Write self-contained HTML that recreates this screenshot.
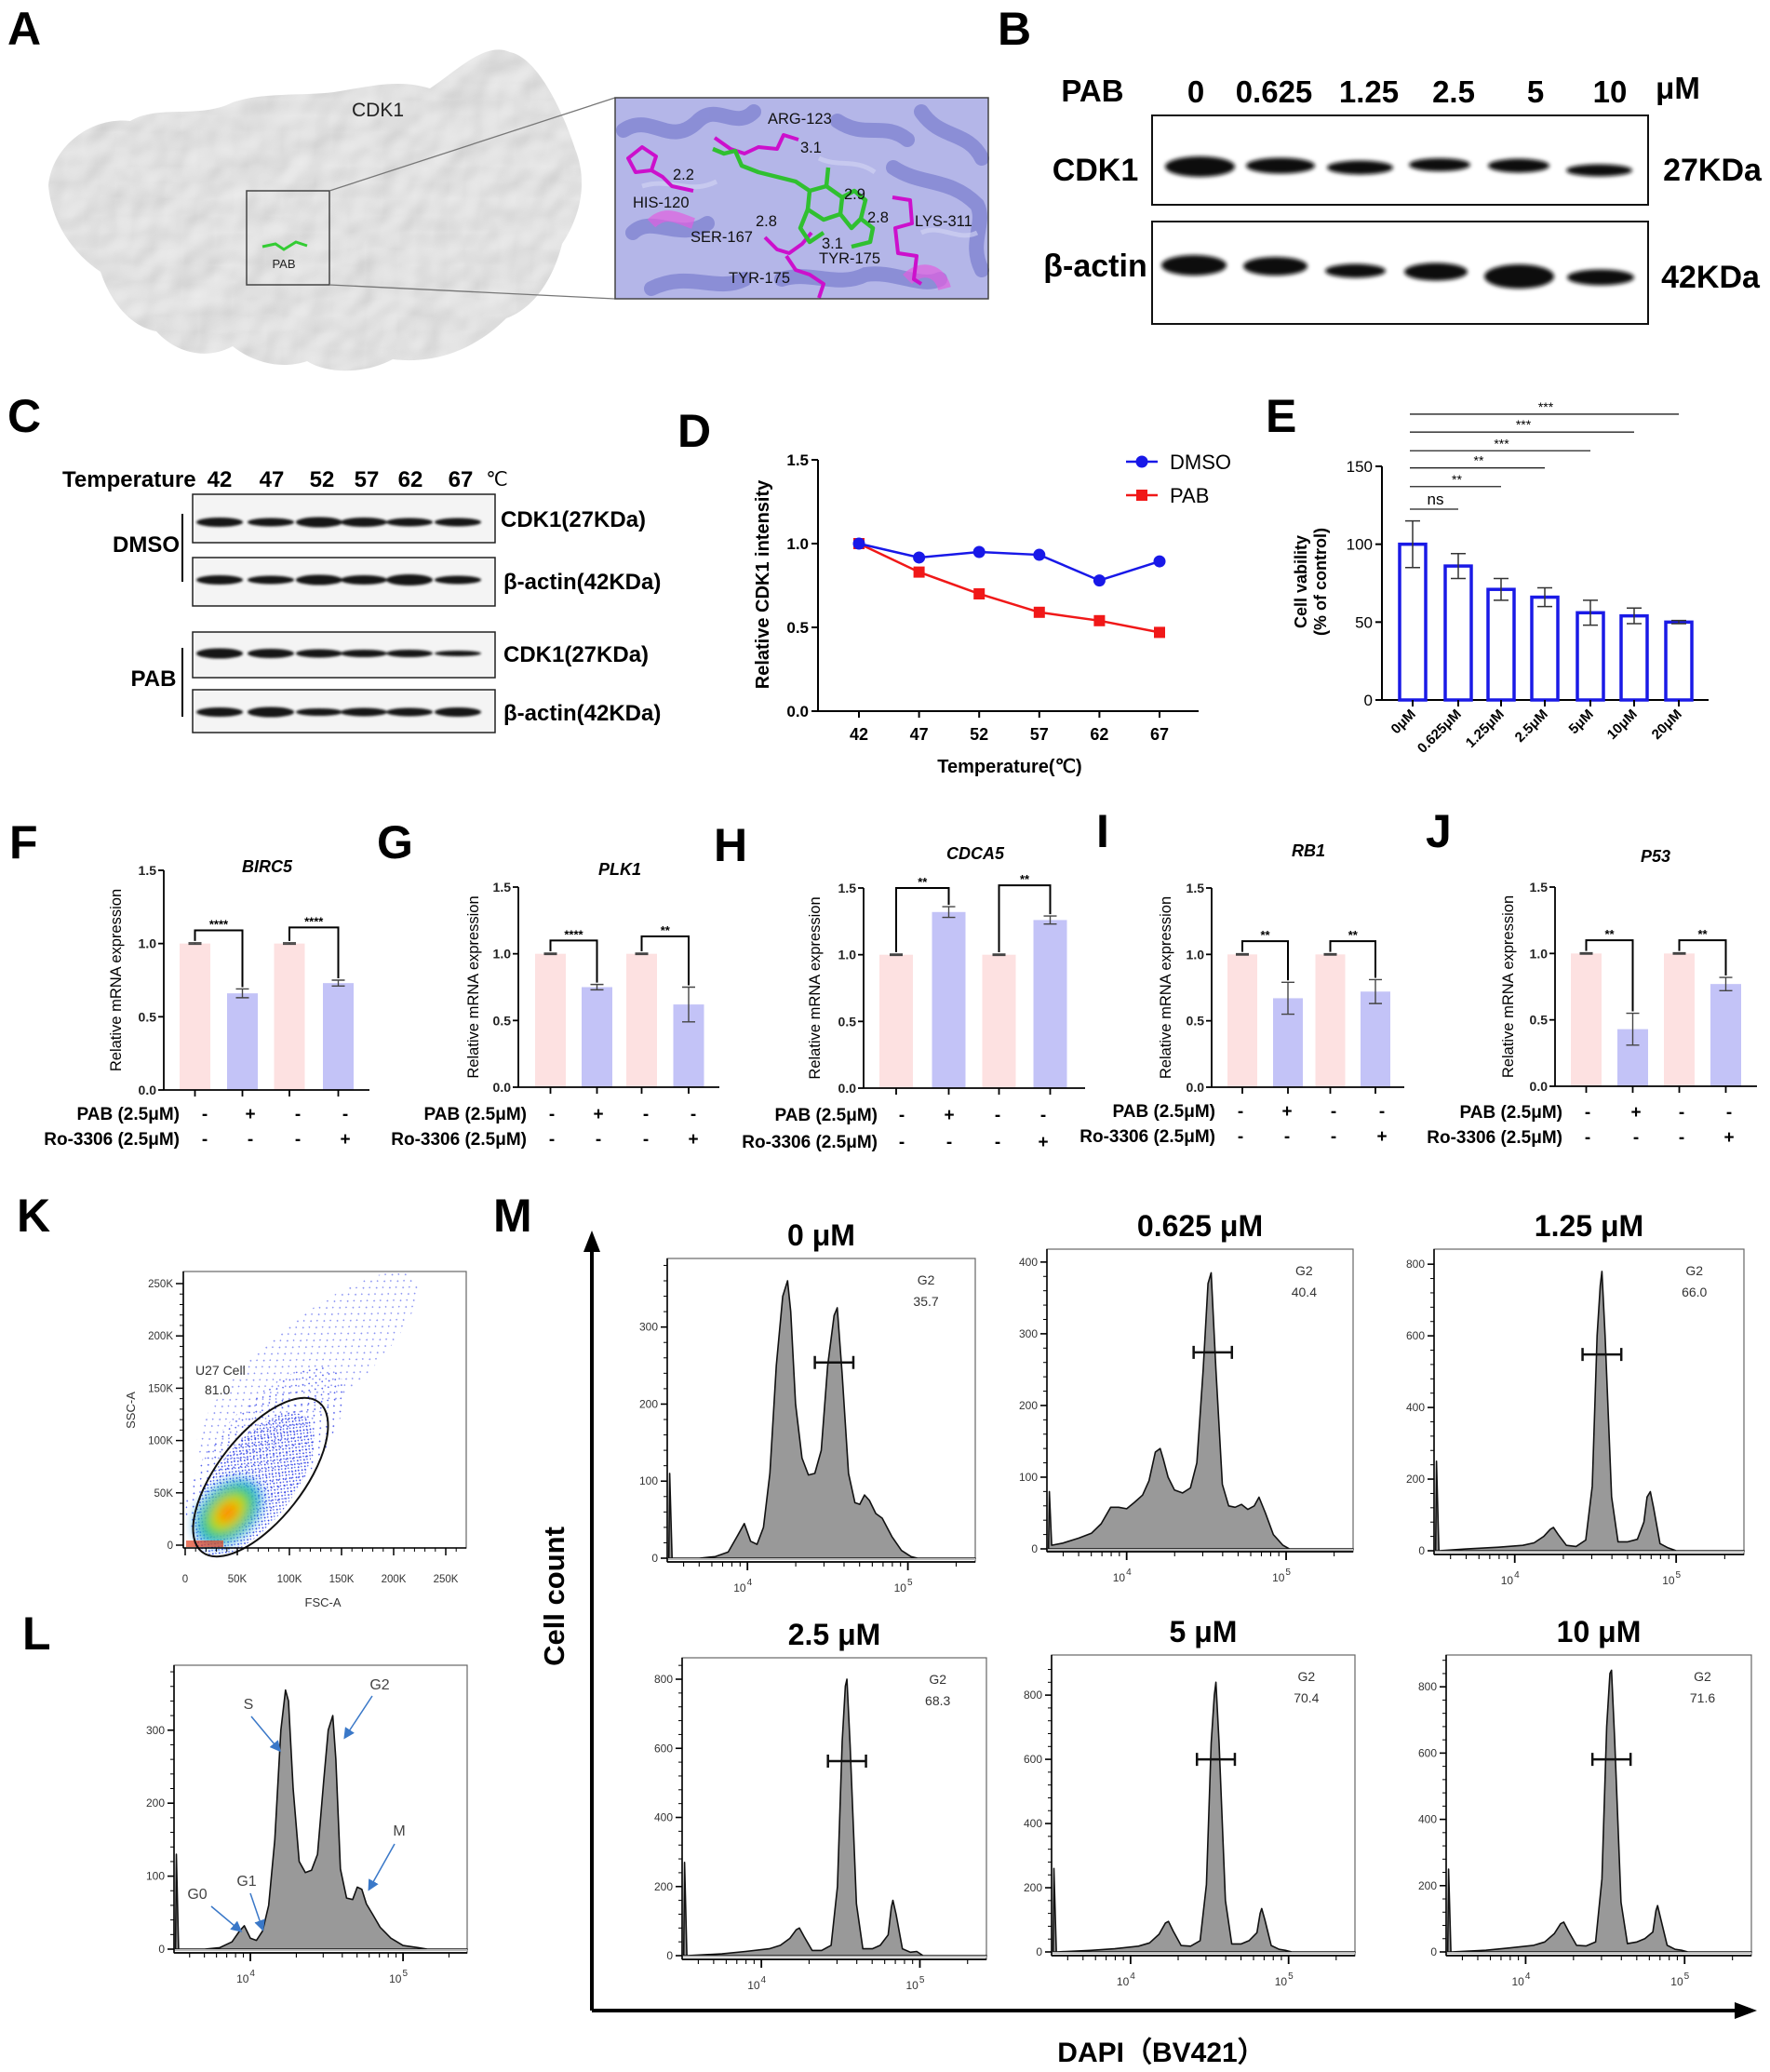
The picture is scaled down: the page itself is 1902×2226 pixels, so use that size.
<!DOCTYPE html>
<html><head><meta charset="utf-8">
<style>
html,body{margin:0;padding:0;background:#fff;}
svg{display:block;font-family:"Liberation Sans",Arial,sans-serif;}
</style></head>
<body>
<svg id="fig" xmlns="http://www.w3.org/2000/svg" width="1902" height="2226" viewBox="0 0 1902 2226">
<defs>
<filter id="blur2" x="-20%" y="-60%" width="140%" height="220%"><feGaussianBlur stdDeviation="2.2"/></filter>
<filter id="blur1" x="-20%" y="-60%" width="140%" height="220%"><feGaussianBlur stdDeviation="1.4"/></filter>
<filter id="surf" x="0" y="0" width="100%" height="100%">
<feTurbulence type="fractalNoise" baseFrequency="0.028" numOctaves="2" seed="4" result="n"/>
<feDiffuseLighting in="n" surfaceScale="4" lighting-color="#ffffff" diffuseConstant="1.0" result="l"><feDistantLight azimuth="235" elevation="55"/></feDiffuseLighting>
<feColorMatrix in="l" type="matrix" values="0.55 0 0 0 0.3  0.55 0 0 0 0.3  0.55 0 0 0 0.3  0 0 0 1 0" result="g"/>
<feComposite in="g" in2="SourceGraphic" operator="in"/>
</filter>
<filter id="blurK"><feGaussianBlur stdDeviation="6"/></filter>
<radialGradient id="core" cx="0.5" cy="0.5" r="0.5">
<stop offset="0" stop-color="#ff3b10"/><stop offset="0.25" stop-color="#ffb000"/><stop offset="0.45" stop-color="#b8e000"/><stop offset="0.65" stop-color="#20d070"/><stop offset="0.82" stop-color="#10a8e8"/><stop offset="1" stop-color="#1030e0" stop-opacity="0"/>
</radialGradient>
<pattern id="dots" width="5" height="5" patternUnits="userSpaceOnUse"><rect x="1" y="1" width="1.6" height="1.6" fill="#2030e0"/><rect x="3.5" y="3.2" width="1.4" height="1.4" fill="#3a50f0"/></pattern>
<pattern id="dots2" width="11" height="9" patternUnits="userSpaceOnUse"><rect x="2" y="2" width="1.6" height="1.6" fill="#2a3ae8"/><rect x="7.5" y="6" width="1.5" height="1.5" fill="#2a3ae8"/></pattern>
<marker id="arrB" markerWidth="8" markerHeight="8" refX="6" refY="4" orient="auto"><path d="M0,0 L8,4 L0,8 z" fill="#3a78c8"/></marker>
</defs>

<g font-weight="bold" font-size="50" fill="#000">
<text x="8" y="48">A</text>
<text x="1072" y="48">B</text>
<text x="8" y="464">C</text>
<text x="728" y="480">D</text>
<text x="1360" y="464">E</text>
<text x="10" y="922">F</text>
<text x="405" y="922">G</text>
<text x="767" y="925">H</text>
<text x="1178" y="910">I</text>
<text x="1532" y="910">J</text>
<text x="18" y="1323">K</text>
<text x="530" y="1323">M</text>
<text x="24" y="1772">L</text>
</g>

<g>
<path filter="url(#surf)" fill="#ccc" d="M52,200 C55,160 95,125 140,130 C170,112 215,128 250,110 C285,98 330,104 365,98 C400,92 430,85 462,95 C492,75 522,44 548,56 C578,62 605,120 618,160 C632,195 624,232 604,262 C594,302 572,332 544,342 C514,372 472,392 422,386 C392,402 352,402 330,388 C300,398 270,388 250,372 C220,388 188,378 168,356 C138,350 118,322 108,292 C78,272 56,240 52,200 Z"/>
<text x="406" y="125" font-size="21" fill="#222" text-anchor="middle">CDK1</text>
<rect x="265" y="205" width="89" height="101" fill="none" stroke="#444" stroke-width="1.5"/>
<path d="M282,265 L296,262 L305,268 L318,260 L330,264" stroke="#3c3" stroke-width="3" fill="none"/>
<text x="305" y="288" font-size="13" fill="#222" text-anchor="middle">PAB</text>
<line x1="354" y1="205" x2="661" y2="105" stroke="#777" stroke-width="1.3"/>
<line x1="354" y1="306" x2="661" y2="321" stroke="#777" stroke-width="1.3"/>
<g>
<rect x="661" y="105" width="401" height="216" fill="#b4b6e8"/>
<g fill="none" stroke="#8185d2" stroke-width="16" stroke-linecap="round" opacity="0.8">
<path d="M670,140 C700,120 720,160 750,130 C770,110 790,140 810,120"/>
<path d="M990,120 C1010,150 1040,140 1055,170"/>
<path d="M960,180 C990,200 1020,190 1050,220 C1060,240 1040,260 1055,290"/>
<path d="M680,250 C700,230 730,260 760,240"/>
<path d="M700,310 C740,290 770,315 800,300"/>
<path d="M840,300 C870,290 900,310 930,295 C960,290 990,310 1010,300"/>
<path d="M900,130 C930,150 950,130 975,150"/>
</g>
<g fill="none" stroke="#d4d6f4" stroke-width="5" opacity="0.6">
<path d="M690,200 C720,190 740,210 770,195"/><path d="M990,250 C1010,240 1030,260 1050,250"/><path d="M880,170 C900,180 920,170 940,185"/>
</g>
<path d="M700,240 C715,225 730,235 745,240" stroke="#e060e0" stroke-width="12" fill="none" opacity="0.7"/>
<path d="M975,300 C990,285 1010,290 1015,310" stroke="#e060e0" stroke-width="14" fill="none" opacity="0.7"/>
<g fill="none" stroke="#cc10cc" stroke-width="4" stroke-linejoin="round">
<path d="M675,170 L690,158 L705,168 L700,183 L683,185 Z M700,183 L712,190 L722,200 L745,205"/>
<path d="M768,148 L785,160 L800,165 L815,158 L835,160 L842,145 L858,150"/>
<path d="M822,255 L835,268 L848,272 L862,262 L872,250"/>
<path d="M845,275 L855,290 L870,295 L885,305 L880,320"/>
<path d="M959,212 L978,215 L980,240 L962,245 L965,272 L985,275 L982,300 L990,305"/>
</g>
<g fill="none" stroke="#30c030" stroke-width="4.5" stroke-linejoin="round">
<path d="M766,160 L778,165 L790,162 L797,178 L815,185 L835,190 L855,195 L870,205"/>
<path d="M870,205 L888,200 L905,212 L903,230 L885,236 L868,225 Z"/>
<path d="M905,212 L918,205 L930,215 L925,235 L915,245 L903,230"/>
<path d="M925,235 L938,245 L935,260 L915,265"/>
<path d="M868,225 L860,245 L870,260 L885,250"/>
<path d="M890,180 L888,200"/>
</g>
<g font-size="16.5" fill="#111">
<text x="825" y="133">ARG-123</text><text x="860" y="164">3.1</text>
<text x="723" y="193">2.2</text><text x="680" y="223">HIS-120</text>
<text x="907" y="214">2.9</text><text x="932" y="239">2.8</text>
<text x="983" y="243">LYS-311</text><text x="812" y="243">2.8</text>
<text x="742" y="260">SER-167</text><text x="883" y="267">3.1</text>
<text x="880" y="283">TYR-175</text><text x="783" y="304">TYR-175</text>
</g>
<rect x="661" y="105" width="401" height="216" fill="none" stroke="#444" stroke-width="1.5"/>
</g>
</g>

<g font-weight="bold">
<text x="1174" y="109" font-size="33" text-anchor="middle">PAB</text>
<g font-size="33" text-anchor="middle">
<text x="1285" y="110">0</text><text x="1369" y="110">0.625</text><text x="1471" y="110">1.25</text><text x="1562" y="110">2.5</text><text x="1650" y="110">5</text><text x="1730" y="110">10</text><text x="1803" y="106">μM</text>
</g>
<rect x="1238" y="124" width="533" height="96" fill="#fff" stroke="#111" stroke-width="2"/>
<rect x="1238" y="238" width="533" height="110" fill="#fff" stroke="#111" stroke-width="2"/>
<g id="bBands" fill="#111" filter="url(#blur2)"></g>
<text x="1177" y="194" font-size="34" text-anchor="middle">CDK1</text>
<text x="1177" y="297" font-size="34" text-anchor="middle">β-actin</text>
<text x="1840" y="194" font-size="34" text-anchor="middle">27KDa</text>
<text x="1838" y="309" font-size="34" text-anchor="middle">42KDa</text>
</g>

<g font-weight="bold">
<text x="67" y="523" font-size="24">Temperature</text>
<g font-size="24" text-anchor="middle">
<text x="236" y="523">42</text><text x="292" y="523">47</text><text x="346" y="523">52</text><text x="394" y="523">57</text><text x="441" y="523">62</text><text x="495" y="523">67</text>
</g>
<text x="534" y="522" font-size="21" font-weight="normal" text-anchor="middle">℃</text>
<rect x="207" y="531" width="325" height="52" fill="#f4f4f4" stroke="#222" stroke-width="1.5"/>
<rect x="207" y="599" width="325" height="52" fill="#f4f4f4" stroke="#222" stroke-width="1.5"/>
<rect x="207" y="679" width="325" height="49" fill="#f4f4f4" stroke="#222" stroke-width="1.5"/>
<rect x="207" y="741" width="325" height="46" fill="#f4f4f4" stroke="#222" stroke-width="1.5"/>
<g id="cBands" fill="#151515" filter="url(#blur1)"></g>
<g font-size="24">
<text x="538" y="566">CDK1(27KDa)</text>
<text x="541" y="633">β-actin(42KDa)</text>
<text x="541" y="711">CDK1(27KDa)</text>
<text x="541" y="774">β-actin(42KDa)</text>
<text x="157" y="593" text-anchor="middle">DMSO</text>
<text x="165" y="737" text-anchor="middle">PAB</text>
</g>
<line x1="196" y1="552" x2="196" y2="625" stroke="#000" stroke-width="2"/>
<line x1="196" y1="696" x2="196" y2="770" stroke="#000" stroke-width="2"/>
</g>

<g id="chartD"></g>
<g id="chartE"></g>
<g id="chartsFJ"></g>

<g>
<rect x="197" y="1366" width="304" height="297" fill="#fff" stroke="#666" stroke-width="1.2"/>
<g>
<ellipse cx="330" cy="1470" rx="150" ry="48" transform="rotate(-40 330 1470)" fill="url(#dots2)" opacity="0.55"/>
<ellipse cx="285" cy="1560" rx="115" ry="50" transform="rotate(-48 285 1560)" fill="url(#dots2)" opacity="0.8"/>
<ellipse cx="272" cy="1595" rx="92" ry="42" transform="rotate(-52 272 1595)" fill="url(#dots)" opacity="0.9"/>
<ellipse cx="245" cy="1625" rx="45" ry="30" transform="rotate(-45 245 1625)" fill="url(#core)" filter="url(#blurK)"/>
<rect x="200" y="1655" width="40" height="7" fill="#e04020" opacity="0.7"/>
</g>
<ellipse cx="280" cy="1587" rx="102" ry="46" transform="rotate(-52 280 1587)" fill="none" stroke="#111" stroke-width="2"/>
<text x="210" y="1477" font-size="14" fill="#333">U27 Cell</text>
<text x="220" y="1498" font-size="14" fill="#333">81.0</text>
<g id="kAxes"></g>
<text x="347" y="1726" font-size="13" fill="#333" text-anchor="middle">FSC-A</text>
<text transform="translate(145,1515) rotate(-90)" font-size="13" fill="#333" text-anchor="middle">SSC-A</text>
</g>

<g id="panelL"></g>

<g id="panelM">
<line x1="636" y1="2160" x2="636" y2="1340" stroke="#000" stroke-width="4"/>
<path d="M627,1345 L636,1322 L645,1345 Z" fill="#000"/>
<line x1="636" y1="2160" x2="1868" y2="2160" stroke="#000" stroke-width="4"/>
<path d="M1864,2151 L1888,2160 L1864,2169 Z" fill="#000"/>
<text transform="translate(606,1715) rotate(-90)" font-size="31" font-weight="bold" text-anchor="middle">Cell count</text>
<text x="1248" y="2215" font-size="30" font-weight="bold" text-anchor="middle">DAPI（BV421）</text>
</g>
</svg>

<script>
const NS='http://www.w3.org/2000/svg';
function el(tag,attrs,parent){const e=document.createElementNS(NS,tag);for(const k in attrs)e.setAttribute(k,attrs[k]);parent.appendChild(e);return e;}
function txt(s,attrs,parent){const e=el('text',attrs,parent);e.textContent=s;return e;}

const bB=document.getElementById('bBands');
const bRow1=[[1252,1327,179,22],[1339,1413,178,17],[1426,1497,180,15],[1514,1580,177,14],[1599,1665,178,15],[1683,1754,183,13]];
const bRow2=[[1248,1318,285,22],[1336,1405,286,20],[1424,1489,291,15],[1509,1577,292,19],[1595,1670,297,26],[1684,1756,298,17]];
bRow1.concat(bRow2).forEach(b=>{const e=el('ellipse',{cx:(b[0]+b[1])/2,cy:b[2],rx:(b[1]-b[0])/2,ry:b[3]/2},bB);

});
const cB=document.getElementById('cBands');
const cLanes=[236,291,343,391,440,492];
const cRows=[[561,[10,9,11,10,9,9]],[623,[10,9,11,10,12,9]],[702,[11,10,9,8,8,6]],[765,[10,11,8,9,9,10]]];
cRows.forEach(r=>cLanes.forEach((x,i)=>{const e=el('ellipse',{cx:x,cy:r[0],rx:25,ry:r[1][i]/2},cB);

}));

const dTemps=['42','47','52','57','62','67'];
const dDmso=[1.0,0.917,0.95,0.933,0.78,0.894];
const dPab=[1.0,0.83,0.70,0.59,0.54,0.47];
const dTicks=[0.0,0.5,1.0,1.5];
(function(){
 const g=document.getElementById('chartD');
 const ax=879,y0=764,y15=494,xEnd=1288;
 const sy=v=>y0-(y0-y15)*v/1.5, sx=i=>923+i*64.6;
 el('line',{x1:ax,y1:y15,x2:ax,y2:y0,stroke:'#000','stroke-width':2},g);
 el('line',{x1:ax,y1:y0,x2:xEnd,y2:y0,stroke:'#000','stroke-width':2},g);
 dTicks.forEach(t=>{el('line',{x1:ax-7,y1:sy(t),x2:ax,y2:sy(t),stroke:'#000','stroke-width':2},g);
  const e=txt(t.toFixed(1),{x:ax-10,y:sy(t)+6,'font-size':17,'font-weight':'bold','text-anchor':'end'},g);
  
  });
 dTemps.forEach((t,i)=>{el('line',{x1:sx(i),y1:y0,x2:sx(i),y2:y0+7,stroke:'#000','stroke-width':2},g);
  const e=txt(t,{x:sx(i),y:795,'font-size':18,'font-weight':'bold','text-anchor':'middle'},g);
  
  });
 const t1=txt('Relative CDK1 intensity',{transform:'translate(826,628) rotate(-90)','font-size':20,'font-weight':'bold','text-anchor':'middle'},g);
 
 
 const t2=txt('Temperature(℃)',{x:1085,y:830,'font-size':20,'font-weight':'bold','text-anchor':'middle'},g);
 
 
 const lp=el('polyline',{points:dPab.map((v,i)=>sx(i)+','+sy(v)).join(' '),fill:'none',stroke:'#f01818','stroke-width':2.5},g);
 
 
 const ld=el('polyline',{points:dDmso.map((v,i)=>sx(i)+','+sy(v)).join(' '),fill:'none',stroke:'#1818e8','stroke-width':2.5},g);
 
 
 dPab.forEach((v,i)=>{const e=el('rect',{x:sx(i)-6,y:sy(v)-6,width:12,height:12,fill:'#f01818'},g);
  
  });
 dDmso.forEach((v,i)=>{const e=el('circle',{cx:sx(i),cy:sy(v),r:6.5,fill:'#1818e8'},g);
  
  });
 const lg=el('g',{},g);
 
 
 el('line',{x1:1210,y1:496,x2:1244,y2:496,stroke:'#1818e8','stroke-width':2.5},lg);
 el('circle',{cx:1227,cy:496,r:6.5,fill:'#1818e8'},lg);
 txt('DMSO',{x:1257,y:504,'font-size':22},lg);
 el('line',{x1:1210,y1:532,x2:1244,y2:532,stroke:'#f01818','stroke-width':2.5},lg);
 el('rect',{x:1221,y:526,width:12,height:12,fill:'#f01818'},lg);
 txt('PAB',{x:1257,y:540,'font-size':22},lg);
})();

const eCats=['0μM','0.625μM','1.25μM','2.5μM','5μM','10μM','20μM'];
const eVals=[100,86,71,66,56,54,50];
const eErrs=[15,8,7,6,8,5,1];
const eTicks=[0,50,100,150];
const eSigLabels=['ns','**','**','***','***','***'];
const eSigTargets=[1,2,3,4,5,6];
const eSigLevels=[122.5,137,149,160,172,183.5];
(function(){
 const g=document.getElementById('chartE');
 const ax=1485,y0=752,y150=501,xEnd=1836;
 const cx=[1518,1567,1613,1660,1709,1756,1804];
 const sy=v=>y0-(y0-y150)*v/150;
 el('line',{x1:ax,y1:y150,x2:ax,y2:y0,stroke:'#000','stroke-width':2},g);
 el('line',{x1:ax,y1:y0,x2:xEnd,y2:y0,stroke:'#000','stroke-width':2},g);
 eTicks.forEach(t=>{el('line',{x1:ax-7,y1:sy(t),x2:ax,y2:sy(t),stroke:'#000','stroke-width':2},g);
  const e=txt(String(t),{x:ax-10,y:sy(t)+6,'font-size':17,'text-anchor':'end'},g);
  
  });
 eVals.forEach((v,i)=>{
  const b=el('rect',{x:cx[i]-14,y:sy(v),width:28,height:y0-sy(v),fill:'#fff',stroke:'#1a1ae6','stroke-width':3.5},g);
  
  
  const er=el('path',{d:`M${cx[i]},${sy(v+eErrs[i])} V${sy(v-eErrs[i])} M${cx[i]-8},${sy(v+eErrs[i])} H${cx[i]+8} M${cx[i]-8},${sy(v-eErrs[i])} H${cx[i]+8}`,stroke:'#333','stroke-width':1.5,fill:'none'},g);
  
  
  el('line',{x1:cx[i],y1:y0,x2:cx[i],y2:y0+7,stroke:'#000','stroke-width':2},g);
  const t=txt(eCats[i],{transform:`translate(${cx[i]+4},${y0+16}) rotate(-45)`,'font-size':15,'font-weight':'bold','text-anchor':'end'},g);
  
  
 });
 eSigLabels.forEach((s,k)=>{
  const y=sy(eSigLevels[k]);
  const l=el('line',{x1:cx[0]-3,y1:y,x2:cx[eSigTargets[k]],y2:y,stroke:'#222','stroke-width':1.3},g);
  
  
  const t=txt(s,{x:(cx[0]+cx[eSigTargets[k]])/2,y:y-(s==='ns'?5:3),'font-size':s==='ns'?17:14,'text-anchor':'middle'},g);
  
  
 });
 const a=txt('Cell vability',{transform:'translate(1404,625) rotate(-90)','font-size':18,'font-weight':'bold','text-anchor':'middle'},g);
 
 
 const b=txt('(% of control)',{transform:'translate(1425,625) rotate(-90)','font-size':18,'font-weight':'bold','text-anchor':'middle'},g);
 
 
})();

const fjGenes=['BIRC5','PLK1','CDCA5','RB1','P53'];
const fjVals=[[1.0,0.66,1.0,0.73],[1.0,0.75,1.0,0.62],[1.0,1.32,1.0,1.26],[1.0,0.67,1.0,0.72],[1.0,0.43,1.0,0.77]];
const fjErrs=[[0.005,0.03,0.005,0.02],[0.005,0.02,0.005,0.13],[0.005,0.04,0.005,0.03],[0.005,0.12,0.005,0.09],[0.005,0.12,0.005,0.05]];
const fjStars=[['****','****'],['****','**'],['**','**'],['**','**'],['**','**']];
const fjBracket=[[1.09,1.11],[1.10,1.13],[1.50,1.52],[1.10,1.10],[1.10,1.10]];
const fjTicks=[0.0,0.5,1.0,1.5];
const fjPab=['-','+','-','-'];
const fjRo=['-','-','-','+'];
(function(){
 const root=document.getElementById('chartsFJ');
 const L=[
  {ax:176,y0:1171,y15:935,xe:397,c:[209.5,260.5,311,363.5],bw:33,tx:287,ty:937,yt:124,lx:193,ly:[1203,1230],sg:[220,269,320,371]},
  {ax:557,y0:1168,y15:953,xe:773,c:[591.5,641.5,689.5,740],bw:33,tx:666,ty:940,yt:508,lx:566,ly:[1203,1230],sg:[593,643,694,745]},
  {ax:928,y0:1169,y15:954,xe:1166,c:[963,1019.5,1073.5,1128.5],bw:36,tx:1048,ty:923,yt:875,lx:943,ly:[1204,1233],sg:[969,1020,1072,1121]},
  {ax:1302,y0:1168,y15:954,xe:1509,c:[1335,1384,1429.5,1478],bw:32,tx:1406,ty:920,yt:1252,lx:1306,ly:[1200,1227],sg:[1333,1383,1433,1485]},
  {ax:1671,y0:1167,y15:953,xe:1888,c:[1704.5,1754.5,1804.5,1854.5],bw:33,tx:1779,ty:926,yt:1620,lx:1679,ly:[1201,1228],sg:[1706,1758,1807,1858]}];
 L.forEach((p,k)=>{
  const g=el('g',{},root);
  
  
  const sy=v=>p.y0-(p.y0-p.y15)*v/1.5;
  fjVals[k].forEach((v,i)=>{
   const b=el('rect',{x:p.c[i]-p.bw/2,y:sy(v),width:p.bw,height:p.y0-sy(v),fill:i%2===0?'#fde1e1':'#c3c3f7'},g);
   
   
   const e=fjErrs[k][i];
   const er=el('path',{d:`M${p.c[i]},${sy(v+e)} V${sy(v-e)} M${p.c[i]-7},${sy(v+e)} H${p.c[i]+7} M${p.c[i]-7},${sy(v-e)} H${p.c[i]+7}`,stroke:'#444','stroke-width':1.4,fill:'none'},g);
   
   
   el('line',{x1:p.c[i],y1:p.y0,x2:p.c[i],y2:p.y0+7,stroke:'#000','stroke-width':1.8},g);
  });
  el('line',{x1:p.ax,y1:p.y15,x2:p.ax,y2:p.y0,stroke:'#000','stroke-width':1.8},g);
  el('line',{x1:p.ax,y1:p.y0,x2:p.xe,y2:p.y0,stroke:'#000','stroke-width':1.8},g);
  fjTicks.forEach(t=>{el('line',{x1:p.ax-6,y1:sy(t),x2:p.ax,y2:sy(t),stroke:'#000','stroke-width':1.8},g);
   const e=txt(t.toFixed(1),{x:p.ax-8,y:sy(t)+5,'font-size':14,'font-weight':'bold','text-anchor':'end','fill':'#222'},g);
   
   });
  [0,1].forEach(j=>{
   const a=p.c[2*j],b=p.c[2*j+1],va=fjVals[k][2*j]+fjErrs[k][2*j],vb=fjVals[k][2*j+1]+fjErrs[k][2*j+1];
   const yb=sy(fjBracket[k][j]);
   const br=el('path',{d:`M${a},${sy(va)-2} V${yb} H${b} V${sy(vb)-2}`,stroke:'#000','stroke-width':2,fill:'none'},g);
   
   
   const st=txt(fjStars[k][j],{x:(a+b)/2,y:yb-2,'font-size':13,'font-weight':'bold','text-anchor':'middle'},g);
   
   
  });
  const tt=txt(fjGenes[k],{x:p.tx,y:p.ty,'font-size':18,'font-weight':'bold','font-style':'italic','text-anchor':'middle'},g);
  
  
  const yt=txt('Relative mRNA expression',{transform:`translate(${p.yt+6},${(p.y0+p.y15)/2}) rotate(-90)`,'font-size':16.5,'text-anchor':'middle'},g);
  
  
  const r1=txt('PAB  (2.5μM)',{x:p.lx,y:p.ly[0],'font-size':19,'font-weight':'bold','text-anchor':'end'},g);
  
  
  const r2=txt('Ro-3306 (2.5μM)',{x:p.lx,y:p.ly[1],'font-size':19,'font-weight':'bold','text-anchor':'end'},g);
  
  
  p.sg.forEach((x,i)=>{
   const s1=txt(fjPab[i],{x:x,y:p.ly[0],'font-size':19,'font-weight':'bold','text-anchor':'middle'},g);
   
   
   const s2=txt(fjRo[i],{x:x,y:p.ly[1],'font-size':19,'font-weight':'bold','text-anchor':'middle'},g);
   
   
  });
 });
})();

const kTickLabels=['0','50K','100K','150K','200K','250K'];
(function(){
 const g=document.getElementById('kAxes');
 const x0=199,x250=479,y0=1660,y250=1379;
 kTickLabels.forEach((s,i)=>{
  const x=x0+(x250-x0)*i/5,y=y0-(y0-y250)*i/5;
  el('line',{x1:x,y1:1663,x2:x,y2:1671,stroke:'#000','stroke-width':1.5},g);
  el('line',{x1:189,y1:y,x2:197,y2:y,stroke:'#000','stroke-width':1.5},g);
  for(let m=1;m<5;m++){const xm=x+(x250-x0)/25*m,ym=y-(y0-y250)/25*m;
   if(xm<500) el('line',{x1:xm,y1:1663,x2:xm,y2:1667,stroke:'#000','stroke-width':1},g);
   if(ym>1368) el('line',{x1:193,y1:ym,x2:197,y2:ym,stroke:'#000','stroke-width':1},g);}
  const a=txt(s,{x:x,y:1700,'font-size':11.5,'fill':'#333','text-anchor':'middle'},g);
  
  
  const b=txt(s,{x:186,y:y+4,'font-size':11.5,'fill':'#333','text-anchor':'end'},g);
  
  
 });
 el('line',{x1:197,y1:1366,x2:197,y2:1663,stroke:'#000','stroke-width':1.6},g);
 el('line',{x1:197,y1:1663,x2:501,y2:1663,stroke:'#000','stroke-width':1.6},g);
})();

const hLogL=[3.51,3.515,3.53,3.7,3.8,3.88,3.93,3.96,4.0,4.04,4.08,4.12,4.16,4.2,4.23,4.25,4.28,4.32,4.36,4.4,4.44,4.48,4.51,4.54,4.56,4.59,4.63,4.67,4.7,4.73,4.76,4.8,4.85,4.92,5.0,5.1,5.16,5.42];
const hCntL=[0,130,0,0,2,10,25,32,15,12,25,60,150,300,355,340,220,120,105,108,130,230,300,320,260,110,70,68,85,82,62,48,30,15,5,2,0,0];
const hLog0=[3.51,3.515,3.53,3.7,3.8,3.88,3.94,3.98,4.02,4.06,4.1,4.14,4.18,4.22,4.25,4.27,4.3,4.34,4.38,4.42,4.46,4.5,4.54,4.56,4.59,4.63,4.67,4.7,4.73,4.76,4.8,4.84,4.9,4.96,5.02,5.06,5.42];
const hCnt0=[0,110,0,0,2,8,30,45,22,18,40,110,250,340,360,320,200,130,108,110,140,250,315,325,240,110,72,70,82,75,58,52,28,10,2,0,0];
const hLog1=[3.51,3.515,3.53,3.6,3.7,3.78,3.84,3.9,3.95,4.0,4.05,4.1,4.14,4.18,4.21,4.23,4.26,4.3,4.35,4.4,4.44,4.48,4.51,4.53,4.56,4.6,4.64,4.68,4.72,4.76,4.8,4.83,4.87,4.92,4.98,5.02,5.42];
const hCnt1=[0,80,5,8,15,22,35,58,58,56,65,75,95,135,140,125,100,82,78,85,120,250,370,385,250,90,60,58,62,55,60,72,50,20,5,0,0];
const hLog2=[3.51,3.515,3.53,3.7,3.9,4.05,4.12,4.18,4.22,4.24,4.27,4.32,4.38,4.44,4.48,4.51,4.53,4.54,4.56,4.6,4.64,4.7,4.76,4.8,4.82,4.84,4.86,4.9,4.95,5.0,5.42];
const hCnt2=[0,250,0,5,10,15,22,40,60,65,45,15,12,30,180,600,740,780,600,150,25,25,32,80,150,165,120,20,8,0,0];
const hLogLate=[3.51,3.515,3.53,3.75,3.9,4.05,4.12,4.18,4.22,4.24,4.27,4.32,4.38,4.44,4.48,4.51,4.53,4.54,4.56,4.6,4.64,4.7,4.75,4.8,4.82,4.83,4.85,4.89,4.94,4.98,5.02,5.42];
const hCnt3=[0,270,0,5,12,20,30,50,75,80,55,15,15,30,200,620,780,800,610,150,20,20,30,60,140,160,120,20,10,12,0,0];
const hCnt4=[0,260,0,5,10,18,28,55,90,95,65,20,18,35,210,650,800,840,650,160,25,25,35,60,120,135,100,20,8,5,0,0];
const hCnt5=[0,250,0,5,12,20,30,55,85,90,62,20,18,30,220,680,840,850,640,150,25,30,40,60,125,140,100,20,8,5,0,0];
const hTitles=['0 μM','0.625 μM','1.25 μM','2.5 μM','5 μM','10 μM'];
const hG2=['35.7','40.4','66.0','68.3','70.4','71.6'];
const hGateCount=[254,274,548,563,600,581];
const hGateLog=[4.42,4.66];

function drawHist(parent,box,logs,cnts,o){
 const g=el('g',{},parent);
 
 
 const LMIN=3.5,LMAX=5.42;
 const sx=l=>box.x+box.w*(l-LMIN)/(LMAX-LMIN);
 const sy=c=>box.zero-(box.zero-box.y)*c/box.ymax;
 el('rect',{x:box.x,y:box.y,width:box.w,height:box.h,fill:'#fff',stroke:'#666','stroke-width':1.2},g);
 let d='M'+sx(logs[0])+','+box.zero;
 logs.forEach((l,i)=>{d+=' L'+sx(l).toFixed(1)+','+sy(cnts[i]).toFixed(1);});
 d+=' L'+sx(logs[logs.length-1])+','+box.zero+' Z';
 const a=el('path',{d:d,fill:'#999',stroke:'#111','stroke-width':1.6,'stroke-linejoin':'round'},g);
 
 
 el('line',{x1:box.x,y1:box.zero+1,x2:box.x+box.w,y2:box.zero+1,stroke:'#bbb','stroke-width':2},g);
 el('line',{x1:box.x,y1:box.y,x2:box.x,y2:box.y+box.h,stroke:'#000','stroke-width':1.6},g);
 el('line',{x1:box.x,y1:box.y+box.h,x2:box.x+box.w,y2:box.y+box.h,stroke:'#000','stroke-width':1.8},g);
 o.ticks.forEach((t,i)=>{
  const y=sy(t);
  el('line',{x1:box.x-7,y1:y,x2:box.x,y2:y,stroke:'#000','stroke-width':1.6},g);
  const s=txt(String(t),{x:box.x-10,y:y+4,'font-size':12,'fill':'#333','text-anchor':'end'},g);
  
  
  const step=o.ticks[1]-o.ticks[0];
  for(let m=1;m<5;m++){const ym=sy(t+step*m/5); if(ym>box.y+2) el('line',{x1:box.x-4,y1:ym,x2:box.x,y2:ym,stroke:'#000','stroke-width':1},g);}
 });
 const by=box.y+box.h;
 for(let dec=3;dec<=5;dec++){for(let m=1;m<10;m++){const l=dec+Math.log10(m); if(l<LMIN||l>LMAX) continue;
  const x=sx(l); el('line',{x1:x,y1:by,x2:x,y2:by+(m===1?9:5),stroke:'#000','stroke-width':m===1?1.8:1.1},g);
  if(m===1&&dec>3){const t=txt('10',{x:x-5,y:by+32,'font-size':12,'fill':'#333','text-anchor':'middle'},g);
   const sp=el('tspan',{dx:1,dy:-7,'font-size':10},t); sp.textContent=String(dec);
   
   }}}
 if(o.title){const t=txt(o.title,{x:box.x+box.w/2,y:box.y-14,'font-size':32,'font-weight':'bold','text-anchor':'middle'},g);
  
  }
 if(o.g2){
  const t1=txt('G2',{x:box.x+box.w*0.84,y:box.y+28,'font-size':14,'fill':'#333','text-anchor':'middle'},g);
  
  
  const t2=txt(o.g2,{x:box.x+box.w*0.84,y:box.y+51,'font-size':14,'fill':'#333','text-anchor':'middle'},g);
  
  
  const gy=sy(o.gate),x1=sx(hGateLog[0]),x2=sx(hGateLog[1]);
  const gt=el('path',{d:`M${x1},${gy} H${x2} M${x1},${gy-7} V${gy+7} M${x2},${gy-7} V${gy+7}`,stroke:'#111','stroke-width':2.5,fill:'none'},g);
  
  
 }
 return {sx,sy};
}

(function(){
 const pm=document.getElementById('panelM');
 const boxes=[
  {x:717,y:1352,w:331,h:326,zero:1674,ymax:389},
  {x:1125,y:1342,w:329,h:325,zero:1664,ymax:418},
  {x:1541,y:1342,w:333,h:328,zero:1666,ymax:842},
  {x:733,y:1781,w:327,h:324,zero:2101,ymax:862},
  {x:1130,y:1778,w:326,h:323,zero:2097,ymax:925},
  {x:1554,y:1778,w:328,h:323,zero:2097,ymax:896}];
 const logs=[hLog0,hLog1,hLog2,hLogLate,hLogLate,hLogLate];
 const cnts=[hCnt0,hCnt1,hCnt2,hCnt3,hCnt4,hCnt5];
 const ticks=[[0,100,200,300],[0,100,200,300,400],[0,200,400,600,800],[0,200,400,600,800],[0,200,400,600,800],[0,200,400,600,800]];
 boxes.forEach((b,i)=>drawHist(pm,b,logs[i],cnts[i],{name:'hist-'+hTitles[i].replace(' μM','um'),ticks:ticks[i],title:hTitles[i],g2:hG2[i],gate:hGateCount[i]}));

 const pl=document.getElementById('panelL');
 drawHist(pl,{x:187,y:1789,w:315,h:309,zero:2094,ymax:389},hLogL,hCntL,{name:'l-phase-histogram',ticks:[0,100,200,300]});
 const lab=[['G0',212,2040,227,2044,258,2074],['G1',265,2026,269,2030,282,2072],['S',267,1836,270,1840,300,1880],['G2',408,1815,400,1818,371,1866],['M',429,1972,424,1977,397,2029]];
 lab.forEach(a=>{
  const t=txt(a[0],{x:a[1],y:a[2],'font-size':16,'fill':'#444','text-anchor':'middle'},pl);
  
  
  const ar=el('line',{x1:a[3],y1:a[4]+4,x2:a[5],y2:a[6],stroke:'#3a78c8','stroke-width':1.5,'marker-end':'url(#arrB)'},pl);
  
  
 });
})();
</script>
</body></html>
